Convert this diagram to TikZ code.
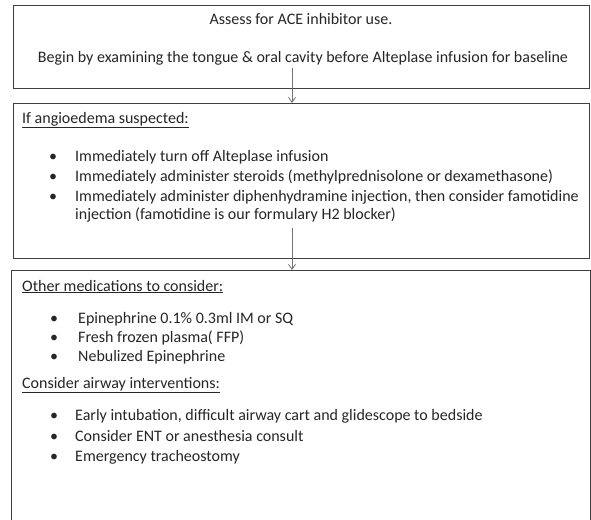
\documentclass[tikz,border=0pt]{standalone}
\usepackage{fontspec}
\setmainfont{Carlito}
\usetikzlibrary{arrows.meta}
\begin{document}
\begin{tikzpicture}[x=1pt,y=-1pt,
  box/.style={draw=black!75, line width=1.4pt, rectangle, anchor=north west, inner sep=0pt},
  txt/.style={anchor=base west, inner sep=0pt, font=\fontsize{16}{19}\selectfont, text=black!85},
  ctxt/.style={anchor=base, inner sep=0pt, font=\fontsize{16}{19}\selectfont, text=black!85},
  bul/.style={anchor=base, inner sep=0pt, font=\fontsize{16}{19}\selectfont, text=black!85},
  conn/.style={draw=black!55, line width=0.8pt, -{Straight Barb[length=5pt,width=7pt]}}]
\useasboundingbox (0,0) rectangle (591,519);
\clip (0,0) rectangle (591,519);
\fill[white] (0,0) rectangle (591,519);
% boxes
\node[box, minimum width=576pt, minimum height=83pt] (b1) at (13,5) {};
\node[box, minimum width=576pt, minimum height=155pt] (b2) at (13,103) {};
\node[box, minimum width=579pt, minimum height=260pt] (b3) at (11,270) {};
% box 1 texts
\node[ctxt] (t11) at (301,25) {Assess for ACE inhibitor use.};
\node[ctxt] (t12) at (303,63) {Begin by examining the tongue \& oral cavity before Alteplase infusion for baseline};
% box 2 texts
\node[txt] (h2) at (22,123) {\underline{If angioedema suspected:}};
\node[bul] (p21) at (53,161) {•};
\node[txt] (t21) at (75,161) {Immediately turn off Alteplase infusion};
\node[bul] (p22) at (53,181) {•};
\node[txt] (t22) at (75,181) {Immediately administer steroids (methylprednisolone or dexamethasone)};
\node[bul] (p23) at (53,201) {•};
\node[txt] (t23) at (75,201) {Immediately administer diphenhydramine injection, then consider famotidine};
\node[txt] (t24) at (75,219) {injection (famotidine is our formulary H2 blocker)};
% box 3 texts
\node[txt] (h3) at (22,291) {\underline{Other medications to consider:}};
\node[bul] (p31) at (54,323) {•};
\node[txt] (t31) at (78,323) {Epinephrine 0.1\% 0.3ml IM or SQ};
\node[bul] (p32) at (54,342) {•};
\node[txt] (t32) at (78,342) {Fresh frozen plasma( FFP)};
\node[bul] (p33) at (54,361) {•};
\node[txt] (t33) at (78,361) {Nebulized Epinephrine};
\node[txt] (h4) at (22,388) {\underline{Consider airway interventions:}};
\node[bul] (p41) at (54,420) {•};
\node[txt] (t41) at (75,420) {Early intubation, difficult airway cart and glidescope to bedside};
\node[bul] (p42) at (54,441) {•};
\node[txt] (t42) at (75,441) {Consider ENT or anesthesia consult};
\node[bul] (p43) at (54,461) {•};
\node[txt] (t43) at (75,461) {Emergency tracheostomy};
% connectors
\coordinate (s1) at (292,68);
\coordinate (s2) at (292,228);
\draw[conn] (s1) -- (s1 |- b2.north);
\draw[conn] (s2) -- (s2 |- b3.north);
\end{tikzpicture}
\end{document}
